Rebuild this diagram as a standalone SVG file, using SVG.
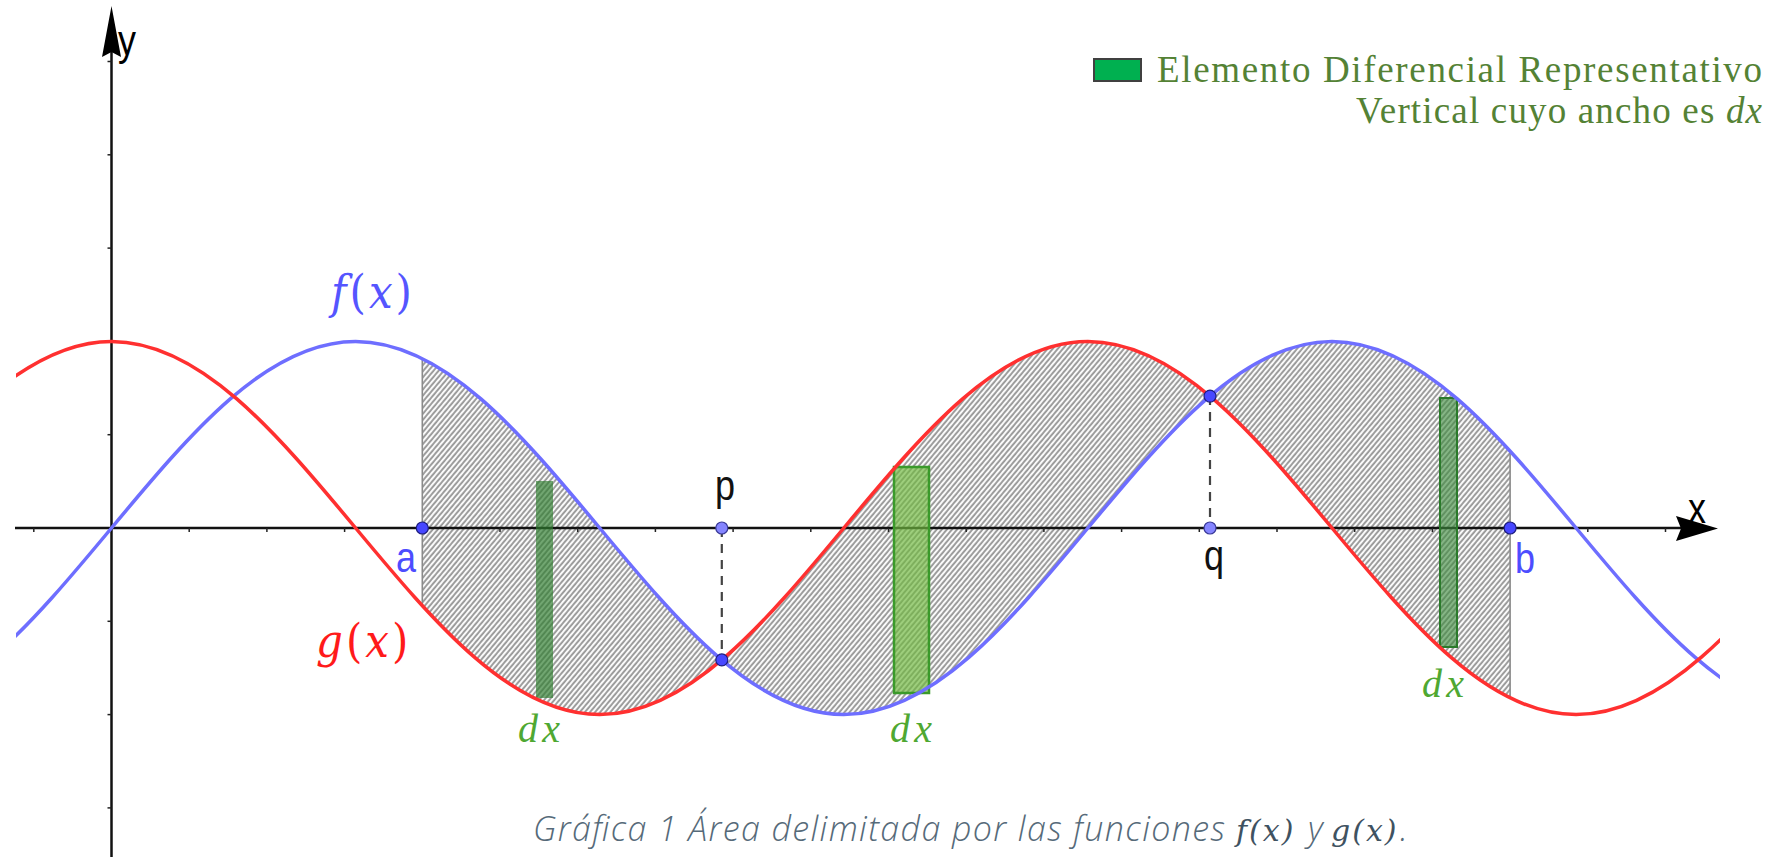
<svg xmlns="http://www.w3.org/2000/svg" width="1773" height="857" viewBox="0 0 1773 857">
<style>
.axis{stroke:#111;stroke-width:2.5;fill:none}
.tick{stroke:#222;stroke-width:1.5}
.fcurve{stroke:#6e6eff;stroke-width:3.5;fill:none}
.gcurve{stroke:#ff3030;stroke-width:3.5;fill:none}
.edge{stroke:#8a8a8a;stroke-width:1.6}
.dash{stroke:#444;stroke-width:2.2;stroke-dasharray:9 7}
.pt{fill:#4747ff;stroke:#1d1d80;stroke-width:1.2}
.pt2{fill:#8585ff;stroke:#3a3a99;stroke-width:1.2}
.lbl{font-family:"Liberation Sans",Arial,sans-serif;font-size:36px}
.math{font-family:"DejaVu Serif","Liberation Serif",serif;font-size:42px;letter-spacing:3px}
.dx{font-family:"Liberation Serif","Times New Roman",serif;font-size:40px;font-style:italic;fill:#4fa832}
.leg{font-family:"Liberation Serif","Times New Roman",serif;font-size:37px;fill:#548235}
.cap{font-family:"Open Sans","DejaVu Sans",sans-serif;font-size:34px;font-style:italic;font-weight:300;fill:#566a79}
.capm{font-family:"DejaVu Serif","Liberation Serif",serif;font-size:30px;font-style:italic;fill:#3f5261;letter-spacing:2px}
</style>
<defs>
<pattern id="hatch" patternUnits="userSpaceOnUse" width="3.9" height="10" patternTransform="rotate(40)">
<rect width="3.9" height="10" fill="#fafafa"/>
<line x1="1" y1="0" x2="1" y2="10" stroke="#555" stroke-width="1.1"/>
</pattern>
<clipPath id="clipAB"><rect x="422.3" y="0" width="1087.8" height="857"/></clipPath>
<clipPath id="clipView"><rect x="16" y="0" width="1704" height="857"/></clipPath>
</defs>

<g id="region">
<path clip-path="url(#clipAB)" fill="url(#hatch)" d="M 355.6,341.4 c 88.3,0 164.5,91 244.1,186.6 c 79.6,95.6 155.8,186.6 244.1,186.6 c 88.3,0 164.5,-91 244.1,-186.6 c 79.6,-95.6 155.8,-186.6 244.1,-186.6 c 88.3,0 164.5,91 244.1,186.6 L 1576.1,714.6 c -88.3,0 -164.5,-91 -244.1,-186.6 c -79.6,-95.6 -155.8,-186.6 -244.1,-186.6 c -88.3,0 -164.5,91 -244.1,186.6 c -79.6,95.6 -155.8,186.6 -244.1,186.6 c -88.3,0 -164.5,-91 -244.1,-186.6 Z"/>
<line class="edge" x1="422.3" y1="358.3" x2="422.3" y2="605.7"/>
<line class="edge" x1="1510.1" y1="451.1" x2="1510.1" y2="698"/>
</g>

<g id="axes">
<line class="axis" x1="15" y1="528" x2="1685" y2="528"/>
<polygon points="1718,528.5 1676,516 1681,528.5 1676,541" fill="#000"/>
<line class="axis" x1="111.5" y1="857" x2="111.5" y2="50"/>
<polygon points="111.5,6 102,57 111.5,52 121,57" fill="#000"/>
<g class="tick">
<line x1="33.8" y1="528" x2="33.8" y2="532"/>
<line x1="189.2" y1="528" x2="189.2" y2="532"/>
<line x1="266.9" y1="528" x2="266.9" y2="532"/>
<line x1="344.6" y1="528" x2="344.6" y2="532"/>
<line x1="500" y1="528" x2="500" y2="532"/>
<line x1="577.7" y1="528" x2="577.7" y2="532"/>
<line x1="655.4" y1="528" x2="655.4" y2="532"/>
<line x1="733.1" y1="528" x2="733.1" y2="532"/>
<line x1="810.8" y1="528" x2="810.8" y2="532"/>
<line x1="888.5" y1="528" x2="888.5" y2="532"/>
<line x1="966.2" y1="528" x2="966.2" y2="532"/>
<line x1="1043.9" y1="528" x2="1043.9" y2="532"/>
<line x1="1121.6" y1="528" x2="1121.6" y2="532"/>
<line x1="1199.3" y1="528" x2="1199.3" y2="532"/>
<line x1="1277" y1="528" x2="1277" y2="532"/>
<line x1="1354.7" y1="528" x2="1354.7" y2="532"/>
<line x1="1432.4" y1="528" x2="1432.4" y2="532"/>
<line x1="1587.8" y1="528" x2="1587.8" y2="532"/>
<line x1="1665.5" y1="528" x2="1665.5" y2="532"/>
<line x1="107.5" y1="61.5" x2="111.5" y2="61.5"/>
<line x1="107.5" y1="154.8" x2="111.5" y2="154.8"/>
<line x1="107.5" y1="248.1" x2="111.5" y2="248.1"/>
<line x1="107.5" y1="341.4" x2="111.5" y2="341.4"/>
<line x1="107.5" y1="434.7" x2="111.5" y2="434.7"/>
<line x1="107.5" y1="621.3" x2="111.5" y2="621.3"/>
<line x1="107.5" y1="714.6" x2="111.5" y2="714.6"/>
<line x1="107.5" y1="807.9" x2="111.5" y2="807.9"/>
</g>
<text class="lbl" transform="translate(118,55) scale(1,1.2)">y</text>
<text class="lbl" transform="translate(1688,523) scale(1,1.2)">x</text>
</g>

<g id="strips">
<rect x="536" y="481" width="17" height="217" fill="#2f7d2f" fill-opacity="0.68"/>
<rect x="894" y="467" width="35" height="226" fill="#70b840" fill-opacity="0.68" stroke="#3a9a2a" stroke-width="2.5"/>
<rect x="1440" y="398" width="17" height="249" fill="#3d8b3d" fill-opacity="0.62" stroke="#2a7a2a" stroke-width="2"/>
</g>

<g id="curves" clip-path="url(#clipView)">
<path id="f" class="fcurve" d="M -132.6,714.6 c 88.3,0 164.5,-91 244.1,-186.6 c 79.6,-95.6 155.8,-186.6 244.1,-186.6 c 88.3,0 164.5,91 244.1,186.6 c 79.6,95.6 155.8,186.6 244.1,186.6 c 88.3,0 164.5,-91 244.1,-186.6 c 79.6,-95.6 155.8,-186.6 244.1,-186.6 c 88.3,0 164.5,91 244.1,186.6 c 79.6,95.6 155.8,186.6 244.1,186.6"/>
<path id="g" class="gcurve" d="M -132.6,528 c 79.6,-95.6 155.8,-186.6 244.1,-186.6 c 88.3,0 164.5,91 244.1,186.6 c 79.6,95.6 155.8,186.6 244.1,186.6 c 88.3,0 164.5,-91 244.1,-186.6 c 79.6,-95.6 155.8,-186.6 244.1,-186.6 c 88.3,0 164.5,91 244.1,186.6 c 79.6,95.6 155.8,186.6 244.1,186.6 c 88.3,0 164.5,-91 244.1,-186.6"/>
</g>

<g id="connectors">
<line class="dash" x1="721.8" y1="528" x2="721.8" y2="660"/>
<line class="dash" x1="1210" y1="396.1" x2="1210" y2="528"/>
</g>

<g id="point-a"><circle class="pt" cx="422.3" cy="528" r="6"/><text class="lbl" fill="#4d4dff" transform="translate(396,572) scale(1,1.2)">a</text></g>
<g id="point-p"><circle class="pt2" cx="721.8" cy="528" r="6"/><circle class="pt" cx="721.8" cy="659.9" r="6"/><text class="lbl" fill="#111" transform="translate(715,500) scale(1,1.2)">p</text></g>
<g id="point-q"><circle class="pt" cx="1210" cy="396.1" r="6"/><circle class="pt2" cx="1210" cy="528" r="6"/><text class="lbl" fill="#111" transform="translate(1204,570) scale(1,1.2)">q</text></g>
<g id="point-b"><circle class="pt" cx="1510.1" cy="528" r="6"/><text class="lbl" fill="#4d4dff" transform="translate(1515,573) scale(1,1.2)">b</text></g>

<g id="label-f"><text class="math" fill="#5555ff" transform="translate(331,308) scale(1,1.12)"><tspan font-style="italic">f</tspan>(<tspan font-style="italic">x</tspan>)</text></g>
<g id="label-g"><text class="math" fill="#ff1a1a" transform="translate(316,657) scale(1,1.12)"><tspan font-style="italic">g</tspan>(<tspan font-style="italic">x</tspan>)</text></g>

<g id="dx-labels">
<text class="dx" x="518" y="742" textLength="42" lengthAdjust="spacing">dx</text>
<text class="dx" x="890" y="742" textLength="42" lengthAdjust="spacing">dx</text>
<text class="dx" x="1422" y="697" textLength="42" lengthAdjust="spacing">dx</text>
</g>

<g id="legend">
<rect x="1094" y="59" width="47" height="22" fill="#00b050" stroke="#404040" stroke-width="2"/>
<text class="leg" x="1762" y="82" text-anchor="end" textLength="605" lengthAdjust="spacing">Elemento Diferencial Representativo</text>
<text class="leg" x="1762" y="123" text-anchor="end" textLength="406" lengthAdjust="spacing">Vertical cuyo ancho es <tspan font-style="italic">dx</tspan></text>
</g>

<g id="caption">
<text class="cap" x="533" y="841" textLength="692" lengthAdjust="spacing">Gráfica 1 Área delimitada por las funciones</text>
<text class="capm" x="1236" y="841">f(x)</text>
<text class="cap" x="1308" y="841">y</text>
<text class="capm" x="1331" y="841">g(x)</text>
<text class="cap" x="1400" y="841">.</text>
</g>
</svg>
